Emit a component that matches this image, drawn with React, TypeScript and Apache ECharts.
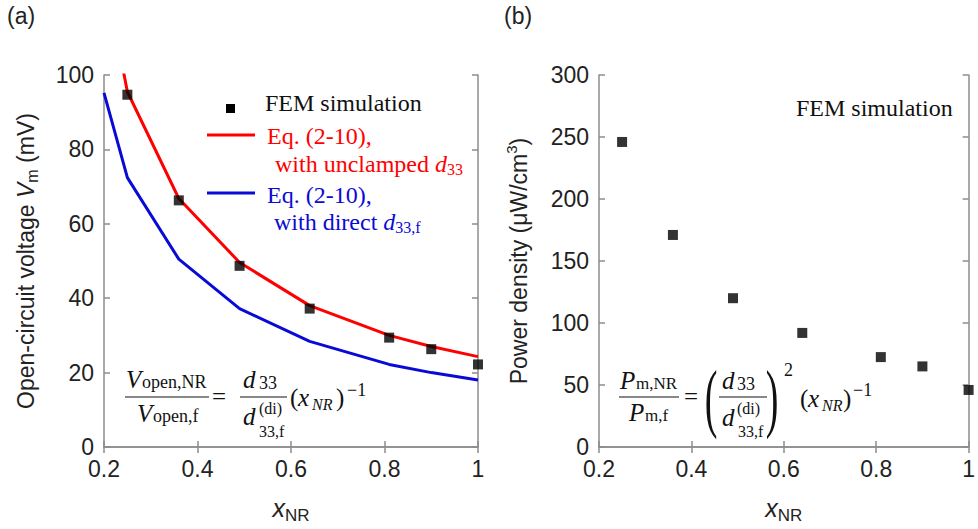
import React, { useEffect, useRef } from "react";
import * as echarts from "echarts";

// ---------- data ----------
const xNR = [0.25, 0.36, 0.49, 0.64, 0.81, 0.9, 1.0];
const femVoltage = [94.7, 66.3, 48.7, 37.2, 29.4, 26.3, 22.2];
const eqX = [0.2, 0.25, 0.36, 0.49, 0.64, 0.81, 0.9, 1.0];
const unclampedVoltage = [128, 95.5, 66.8, 49.6, 38.0, 30.0, 27.0, 24.3];
const directVoltage = [95.2, 72.4, 50.5, 37.2, 28.4, 22.2, 20.0, 18.0];
const femPower = [246, 171, 120, 92, 72.5, 65, 46];

const xMin = 0.2, xMax = 1, xStep = 0.2;
const vMin = 0, vMax = 100, vStep = 20;
const pMin = 0, pMax = 300, pStep = 50;

// ---------- styles ----------
const SERIF = "'Liberation Serif','Times New Roman',serif";
const SANS = "'Liberation Sans',Arial,sans-serif";
const AXIS = "#8c8c8c";
const INK = "#222222";
const RED = "#ff0000";
const BLUE = "#0a0ad6";

function txt(x: number, baseline: number, text: string, size: number, opt: any = {}) {
  const fam = opt.family || SERIF;
  const k = fam === SANS ? 0.346 : 0.3375;
  return {
    type: "text",
    x,
    y: baseline - k * size,
    silent: true,
    z: 100,
    scaleX: opt.scaleX || 1,
    style: {
      text,
      fill: opt.color || "#111",
      fontSize: size,
      fontFamily: fam,
      fontStyle: opt.italic ? "italic" : "normal",
      textAlign: opt.align || "left",
      textVerticalAlign: "middle",
    },
  };
}
function hline(x1: number, x2: number, y: number, color = "#111", w = 1.2) {
  return { type: "line", silent: true, z: 100, shape: { x1, y1: y, x2, y2: y }, style: { stroke: color, lineWidth: w } };
}
function rich(x: number, y: number, text: string, color: string, richStyle: any) {
  return {
    type: "text", x, y, silent: true, z: 100,
    style: { text, fill: color, textAlign: "left", textVerticalAlign: "middle", rich: richStyle },
  };
}

function legendRich(color: string) {
  return {
    a: { fontSize: 24, fontFamily: SERIF, fill: color, color },
    i: { fontSize: 24, fontFamily: SERIF, fontStyle: "italic", fill: color, color },
    s: { fontSize: 16, fontFamily: SERIF, fill: color, color, padding: [11, 0, 0, 0] },
  };
}

const fmtX = (v: number) => String(Math.round(v * 10) / 10);

function xAxes(gridIndex: number) {
  const line = { show: true, lineStyle: { color: AXIS, width: 1.5 } };
  const tick = { show: true, inside: true, length: 6, lineStyle: { color: AXIS, width: 1.5 } };
  return [
    {
      type: "value", gridIndex, position: "bottom", min: xMin, max: xMax, interval: xStep,
      axisLine: line, axisTick: tick, splitLine: { show: false },
      axisLabel: { color: INK, fontSize: 23, fontFamily: SANS, margin: 12, lineHeight: 20, formatter: fmtX },
      name: "{i|x}{s|NR}", nameLocation: "middle", nameGap: 44,
      nameTextStyle: {
        rich: {
          i: { fontSize: 25, fontFamily: SANS, fontStyle: "italic", color: INK },
          s: { fontSize: 17, fontFamily: SANS, color: INK, padding: [16, 0, 0, 0] },
        },
      },
    },
    {
      type: "value", gridIndex, position: "top", min: xMin, max: xMax, interval: xStep,
      axisLine: line, axisTick: tick, splitLine: { show: false }, axisLabel: { show: false },
    },
  ];
}

function yAxes(gridIndex: number, min: number, max: number, step: number, name: string, nameRich: any, gap: number) {
  const line = { show: true, lineStyle: { color: AXIS, width: 1.5 } };
  const tick = { show: true, inside: true, length: 6, lineStyle: { color: AXIS, width: 1.5 } };
  return [
    {
      type: "value", gridIndex, position: "left", min, max, interval: step,
      axisLine: line, axisTick: tick, splitLine: { show: false },
      axisLabel: { color: INK, fontSize: 23, fontFamily: SANS, margin: 10, lineHeight: 16 },
      name, nameLocation: "middle", nameGap: gap, nameRotate: 90,
      nameTextStyle: { rich: nameRich },
    },
    {
      type: "value", gridIndex, position: "right", min, max, interval: step,
      axisLine: line, axisTick: tick, splitLine: { show: false }, axisLabel: { show: false },
    },
  ];
}

function buildGraphics() {
  const g: any[] = [];
  // panel labels
  g.push(txt(7, 24, "(a)", 23, { family: SANS, color: INK }));
  g.push(txt(504, 24, "(b)", 23, { family: SANS, color: INK }));

  // legend of panel (a)
  g.push({ type: "rect", silent: true, z: 100, shape: { x: 226, y: 104, width: 9, height: 9 }, style: { fill: "#000" } });
  g.push(txt(265, 111.5, "FEM simulation", 24, { color: "#111" }));
  g.push(hline(207, 255, 135, RED, 3));
  g.push(txt(267, 144, "Eq. (2-10),", 24, { color: RED }));
  g.push(rich(275, 163.6, "{a|with unclamped }{i|d}{s|33}", RED, legendRich(RED)));
  g.push(hline(207, 255, 193, BLUE, 3));
  g.push(txt(267, 203, "Eq. (2-10),", 24, { color: BLUE }));
  g.push(rich(274, 221.9, "{a|with direct }{i|d}{s|33,f}", BLUE, legendRich(BLUE)));

  // panel (b) label text
  g.push(txt(796, 116.5, "FEM simulation", 24, { color: "#111" }));

  const M = 25, S = 18;
  // formula (a)
  g.push(txt(126, 388, "V", M, { italic: true }));
  g.push(txt(142, 388, "open,NR", S));
  g.push(hline(125, 209, 397));
  g.push(txt(137, 422, "V", M, { italic: true }));
  g.push(txt(153, 422, "open,f", S));
  g.push(txt(212, 404.5, "=", M));
  g.push(txt(243, 388, "d", M, { italic: true }));
  g.push(txt(259, 389, "33", S));
  g.push(hline(240, 287, 397));
  g.push(txt(243, 425, "d", M, { italic: true }));
  g.push(txt(259, 414, "(di)", 16));
  g.push(txt(259, 437, "33,f", 16));
  g.push(txt(290, 406, "(", M));
  g.push(txt(298, 406, "x", M, { italic: true }));
  g.push(txt(312, 410, "NR", 16, { italic: true }));
  g.push(txt(336, 406, ")", M));
  g.push(txt(347, 396, "\u22121", S));

  // formula (b)
  g.push(txt(620, 389, "P", M, { italic: true }));
  g.push(txt(636, 389, "m,NR", 17));
  g.push(hline(619, 679, 397));
  g.push(txt(629, 421, "P", M, { italic: true }));
  g.push(txt(645, 421, "m,f", 17));
  g.push(txt(684, 404.5, "=", M));
  g.push({ ...txt(711, 423, "(", 76, { align: "center" }), scaleX: 0.5 });
  g.push(txt(722, 389, "d", M, { italic: true }));
  g.push(txt(737, 390, "33", S));
  g.push(hline(719, 767, 397));
  g.push(txt(722, 426, "d", M, { italic: true }));
  g.push(txt(737, 414, "(di)", 16));
  g.push(txt(738, 437, "33,f", 16));
  g.push({ ...txt(772, 423, ")", 76, { align: "center" }), scaleX: 0.5 });
  g.push(txt(784, 376, "2", S));
  g.push(txt(800, 407, "(", M));
  g.push(txt(808, 407, "x", M, { italic: true }));
  g.push(txt(822, 411, "NR", 16, { italic: true }));
  g.push(txt(843, 407, ")", M));
  g.push(txt(853, 396, "\u22121", S));
  return g;
}

export default function App() {
  const ref = useRef<HTMLDivElement>(null);
  useEffect(() => {
    if (!ref.current) return;
    const chart = echarts.init(ref.current, undefined, { renderer: "svg" });
    const leftNameRich = {
      a: { fontSize: 23, fontFamily: SANS, color: INK },
      i: { fontSize: 23, fontFamily: SANS, fontStyle: "italic", color: INK },
      s: { fontSize: 16, fontFamily: SANS, color: INK, padding: [12, 0, 0, 0] },
    };
    const rightNameRich = {
      a: { fontSize: 23, fontFamily: SANS, color: INK },
      u: { fontSize: 15, fontFamily: SANS, color: INK, padding: [0, 0, 14, 0] },
    };
    const option: any = {
      animation: false,
      backgroundColor: "#ffffff",
      grid: [
        { left: 104, top: 75, width: 374, height: 374 },
        { left: 599, top: 75, width: 375, height: 374 },
      ],
      xAxis: [...xAxes(0), ...xAxes(1)],
      yAxis: [
        ...yAxes(0, vMin, vMax, vStep, "{a|Open-circuit voltage }{i|V}{s|m}{a| (mV)}", leftNameRich, 64),
        ...yAxes(1, pMin, pMax, pStep, "{a|Power density (\u03bcW/cm}{u|3}{a|)}", rightNameRich, 66),
      ],
      series: [
        {
          type: "line", name: "unclamped", xAxisIndex: 0, yAxisIndex: 0, z: 2,
          data: eqX.map((x, i) => [x, unclampedVoltage[i]]),
          showSymbol: false, clip: true, lineStyle: { color: RED, width: 3 },
        },
        {
          type: "line", name: "direct", xAxisIndex: 0, yAxisIndex: 0, z: 2,
          data: eqX.map((x, i) => [x, directVoltage[i]]),
          showSymbol: false, clip: true, lineStyle: { color: BLUE, width: 3 },
        },
        {
          type: "scatter", name: "FEM simulation", xAxisIndex: 0, yAxisIndex: 0, z: 3,
          symbol: "rect", symbolSize: 10, itemStyle: { color: "#000" },
          data: xNR.map((x, i) => [x, femVoltage[i]]),
        },
        {
          type: "scatter", name: "FEM power", xAxisIndex: 2, yAxisIndex: 2, z: 3,
          symbol: "rect", symbolSize: 10, itemStyle: { color: "#000" },
          data: xNR.map((x, i) => [x, femPower[i]]),
        },
      ],
      graphic: buildGraphics(),
    };
    chart.setOption(option);
    return () => chart.dispose();
  }, []);
  return (
    <div
      ref={ref}
      style={{ position: "absolute", left: 0, top: 0, width: 978, height: 529, background: "#fff" }}
    />
  );
}
